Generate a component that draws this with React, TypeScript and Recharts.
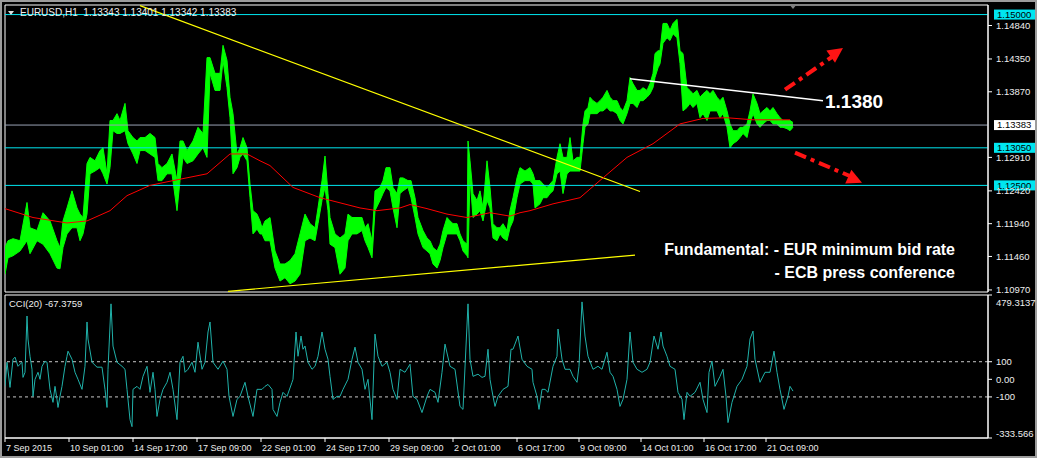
import React from "react";
import {
  ComposedChart,
  Area,
  Line,
  XAxis,
  YAxis,
  ReferenceLine,
  ReferenceArea,
  ReferenceDot,
} from "recharts";

const FONT = "'Liberation Sans', Arial, sans-serif";
const TXT = "#eeeeee";
const CYAN = "#00e6f0";
const RED = "#ff1414";

// hourly bars: [bar, high, low]
const priceBars: [number, number, number][] = [
  [0, 1.1159, 1.112], [3, 1.1169, 1.1144], [8, 1.1172, 1.1147], [15, 1.1169, 1.1154], [22, 1.1225, 1.1169],
  [25, 1.1188, 1.115], [32, 1.1184, 1.1169], [38, 1.121, 1.1164], [45, 1.1198, 1.115], [52, 1.1169, 1.1129],
  [55, 1.1159, 1.1128], [58, 1.1198, 1.1159], [62, 1.1217, 1.1179], [67, 1.1242, 1.1188], [72, 1.1217, 1.1188],
  [75, 1.1208, 1.1169], [78, 1.1203, 1.1179], [82, 1.1282, 1.1208], [85, 1.1291, 1.1267], [90, 1.1286, 1.1271],
  [95, 1.1301, 1.1276], [98, 1.1305, 1.1267], [102, 1.1267, 1.1252], [105, 1.1345, 1.1276], [108, 1.1345, 1.133],
  [112, 1.1355, 1.1326], [115, 1.1345, 1.1326], [120, 1.137, 1.133], [123, 1.133, 1.1311], [128, 1.132, 1.1296],
  [132, 1.1315, 1.1282], [135, 1.132, 1.1301], [140, 1.132, 1.1301], [145, 1.1326, 1.1296], [150, 1.132, 1.1291],
  [153, 1.1282, 1.1257], [157, 1.1276, 1.1257], [162, 1.1282, 1.1267], [167, 1.1296, 1.1267], [172, 1.1257, 1.1213],
  [175, 1.1315, 1.1257], [178, 1.1315, 1.1291], [182, 1.1301, 1.1282], [188, 1.1315, 1.1286], [193, 1.1335, 1.1296],
  [198, 1.1326, 1.1305], [202, 1.1437, 1.1291], [205, 1.1437, 1.1414], [210, 1.1414, 1.1389], [215, 1.1414, 1.1389],
  [218, 1.1455, 1.1433], [222, 1.1433, 1.1393], [225, 1.1379, 1.1349], [228, 1.1355, 1.1267], [232, 1.1296, 1.1276],
  [235, 1.1305, 1.1291], [238, 1.132, 1.1296], [242, 1.1305, 1.1286], [245, 1.1252, 1.1232], [248, 1.1213, 1.1179],
  [252, 1.1208, 1.1186], [255, 1.1198, 1.1179], [257, 1.1188, 1.1179], [260, 1.1198, 1.1169], [265, 1.1203, 1.1169],
  [270, 1.1154, 1.1129], [275, 1.1135, 1.111], [280, 1.1135, 1.1115], [285, 1.114, 1.1106], [290, 1.115, 1.111],
  [295, 1.1179, 1.112], [300, 1.1208, 1.1169], [305, 1.1194, 1.1173], [310, 1.1188, 1.1169], [313, 1.1217, 1.1194],
  [317, 1.1257, 1.1228], [320, 1.1293, 1.1247], [323, 1.1238, 1.1213], [325, 1.1203, 1.1164], [330, 1.1179, 1.1159],
  [335, 1.1173, 1.112], [340, 1.1179, 1.1129], [343, 1.1208, 1.1169], [347, 1.1203, 1.1179], [352, 1.1203, 1.1179],
  [357, 1.1203, 1.1184], [360, 1.1188, 1.1169], [363, 1.1194, 1.1159], [367, 1.1169, 1.1144], [370, 1.1242, 1.1213],
  [375, 1.1247, 1.1228], [378, 1.1257, 1.1238], [381, 1.1276, 1.1247], [385, 1.1276, 1.1242], [388, 1.1247, 1.1217],
  [392, 1.1238, 1.1188], [395, 1.1261, 1.1238], [398, 1.1261, 1.1242], [403, 1.1257, 1.1247], [406, 1.1257, 1.1232],
  [410, 1.1232, 1.1203], [413, 1.1203, 1.1179], [418, 1.1184, 1.1159], [422, 1.1173, 1.1154], [425, 1.1169, 1.115],
  [428, 1.1159, 1.1135], [432, 1.1154, 1.1129], [435, 1.1164, 1.114], [438, 1.1184, 1.1159], [442, 1.1203, 1.1179],
  [445, 1.1198, 1.1179], [448, 1.1194, 1.1179], [452, 1.1194, 1.1179], [455, 1.1179, 1.1169], [458, 1.1169, 1.1154],
  [462, 1.1164, 1.1147], [463, 1.1315, 1.1144], [465, 1.1286, 1.1261], [468, 1.1238, 1.1203], [472, 1.1228, 1.1208],
  [475, 1.1242, 1.1213], [478, 1.1217, 1.1198], [482, 1.1286, 1.1228], [485, 1.1247, 1.1217], [488, 1.1194, 1.1173],
  [492, 1.1188, 1.1169], [495, 1.1188, 1.1179], [498, 1.1194, 1.1173], [502, 1.1184, 1.1169], [505, 1.1213, 1.1188],
  [508, 1.1232, 1.1198], [512, 1.1261, 1.1232], [515, 1.1276, 1.1252], [520, 1.1271, 1.1257], [525, 1.1276, 1.1257],
  [528, 1.1267, 1.1252], [530, 1.1257, 1.1217], [535, 1.1257, 1.1223], [538, 1.1252, 1.1232], [542, 1.1247, 1.1232],
  [545, 1.1252, 1.1238], [548, 1.1257, 1.1242], [552, 1.1291, 1.1267], [555, 1.1311, 1.1271], [558, 1.1291, 1.1238],
  [562, 1.1291, 1.1267], [565, 1.132, 1.1271], [568, 1.1286, 1.1271], [572, 1.1291, 1.1271], [575, 1.1291, 1.1271],
  [578, 1.134, 1.1311], [580, 1.1359, 1.1335], [583, 1.1364, 1.134], [585, 1.1379, 1.1355], [588, 1.1374, 1.1355],
  [592, 1.137, 1.1355], [595, 1.1374, 1.1359], [598, 1.1379, 1.1359], [602, 1.1389, 1.1364], [605, 1.1379, 1.1359],
  [608, 1.1374, 1.1359], [612, 1.1374, 1.1355], [615, 1.1364, 1.1345], [618, 1.1359, 1.134], [622, 1.1374, 1.1355],
  [625, 1.1408, 1.137], [628, 1.1399, 1.137], [632, 1.1389, 1.1364], [635, 1.1389, 1.1374], [638, 1.1393, 1.1374],
  [642, 1.1389, 1.1379], [645, 1.1399, 1.1384], [648, 1.1414, 1.1393], [650, 1.1443, 1.1408], [653, 1.1447, 1.1422],
  [655, 1.1447, 1.1428], [658, 1.1487, 1.1458], [662, 1.1487, 1.1466], [665, 1.1477, 1.1462], [668, 1.1487, 1.1472],
  [672, 1.1493, 1.1466], [675, 1.1447, 1.1428], [678, 1.1443, 1.1359], [682, 1.1393, 1.1364], [685, 1.1389, 1.137],
  [688, 1.1384, 1.1364], [692, 1.1389, 1.137], [695, 1.1379, 1.1349], [698, 1.1384, 1.1355], [702, 1.1389, 1.1345],
  [705, 1.1384, 1.1359], [708, 1.1389, 1.1359], [712, 1.1379, 1.1359], [715, 1.1374, 1.1349], [718, 1.1379, 1.1355],
  [722, 1.1359, 1.1335], [725, 1.134, 1.1305], [728, 1.133, 1.1311], [732, 1.133, 1.1315], [735, 1.1335, 1.132],
  [738, 1.1335, 1.1326], [742, 1.134, 1.132], [745, 1.1359, 1.134], [748, 1.1384, 1.1355], [752, 1.137, 1.134],
  [755, 1.1355, 1.1335], [758, 1.1359, 1.134], [762, 1.1364, 1.1345], [765, 1.1359, 1.1345], [768, 1.1364, 1.134],
  [772, 1.1355, 1.134], [775, 1.1349, 1.1335], [778, 1.1345, 1.1335], [782, 1.1345, 1.1333], [785, 1.1345, 1.133],
  [788, 1.1342, 1.1335],
];

// red moving average: [bar, value]
const maPoints: [number, number][] = [
  [0, 1.1216], [28, 1.1203], [62, 1.1195], [82, 1.1198], [105, 1.1213], [122, 1.1235], [145, 1.125],
  [168, 1.1257], [202, 1.1267], [225, 1.1296], [242, 1.1296], [255, 1.1286], [265, 1.1279], [288, 1.1247],
  [315, 1.1232], [355, 1.1217], [372, 1.1213], [395, 1.1217], [405, 1.1222], [422, 1.1216], [442, 1.1208],
  [462, 1.1203], [485, 1.121], [505, 1.1205], [515, 1.121], [525, 1.1213], [548, 1.1223], [575, 1.1232],
  [598, 1.1261], [622, 1.1291], [648, 1.1311], [675, 1.134], [698, 1.1348], [722, 1.1349], [748, 1.1346],
  [785, 1.1346],
];

// CCI(20): [bar, value]
const cciPoints: [number, number][] = [
  [0, -40], [2, 97], [5, -46], [8, 114], [10, 126], [13, 74], [17, 97], [18, 11], [20, 40], [22, 360],
  [23, 229], [25, 131], [27, 57], [28, -97], [30, 0], [33, 40], [35, 0], [37, 74], [40, 103], [42, 97],
  [45, -57], [48, -131], [50, -40], [52, -114], [53, -160], [55, -97], [57, -40], [60, 74], [62, 131], [63, 160],
  [67, 114], [70, 40], [73, 0], [77, -57], [80, 74], [82, 326], [83, 229], [87, 97], [92, 69], [97, 69],
  [100, -57], [102, -160], [103, 57], [106, 429], [108, 189], [112, 97], [117, 74], [120, 57], [122, -57], [125, -229],
  [127, -269], [128, -57], [132, -40], [135, -57], [138, 17], [142, 74], [145, -74], [148, 40], [150, -57], [152, -211],
  [155, -114], [158, -57], [162, -17], [165, 40], [168, -57], [172, -229], [175, 97], [178, 131], [180, 40], [183, 57],
  [187, 97], [190, 40], [193, 211], [197, 57], [200, 97], [203, 269], [205, 326], [208, 97], [213, 57], [218, 103],
  [222, 57], [224, -97], [228, -211], [232, -114], [235, -97], [240, -17], [243, -97], [248, -211], [252, -57], [257, -57],
  [260, -40], [263, -29], [267, -57], [268, -171], [272, -211], [275, -131], [278, -74], [282, -97], [287, -17], [288, 0],
  [291, 269], [293, 131], [296, 246], [298, 171], [300, 189], [303, 97], [307, 57], [310, 74], [313, 131], [317, 269],
  [320, 171], [323, 114], [325, 17], [328, -114], [332, -97], [335, -97], [338, -57], [343, 0], [347, 114], [350, 183],
  [353, 97], [357, 57], [360, -57], [363, 0], [367, -229], [370, 257], [373, 131], [377, 74], [382, 97], [385, 40],
  [388, -57], [392, -114], [395, 57], [400, 40], [405, 86], [408, -97], [412, -114], [417, -189], [422, -97], [425, -57],
  [430, -74], [433, -131], [437, 40], [440, 200], [445, 74], [450, 57], [455, -154], [458, -171], [463, 429], [465, 114],
  [468, 17], [473, 29], [477, 11], [480, 17], [483, 171], [485, 0], [488, -97], [490, -154], [493, -97], [498, -57],
  [503, -40], [506, 171], [508, 171], [513, 246], [517, 114], [522, 74], [527, 57], [528, -17], [532, -97], [534, -171],
  [537, -57], [540, -57], [543, -74], [548, 74], [552, 131], [553, 286], [557, 114], [560, 57], [565, 57], [568, 17],
  [572, -17], [574, 74], [577, 440], [580, 246], [583, 131], [588, 57], [593, 74], [597, 57], [602, 154], [605, 40],
  [608, 17], [612, -57], [615, -154], [618, -114], [622, 0], [625, 269], [628, 97], [632, 57], [637, 40], [642, 57],
  [645, 97], [649, 246], [653, 171], [656, 269], [658, 189], [662, 131], [665, 74], [670, 57], [673, -74], [677, -114],
  [679, -229], [682, -74], [685, -97], [690, -74], [695, -17], [698, -114], [702, -189], [704, 40], [707, 103], [710, -40],
  [715, 17], [718, 57], [721, -97], [723, -246], [727, -131], [732, -40], [737, 0], [742, 74], [745, 229], [748, 274],
  [750, 114], [755, -17], [760, 40], [765, 40], [769, 160], [772, 40], [775, -57], [779, -171], [783, -97], [785, -40],
  [788, -67],
];

const timeTicks = [0, 64, 128, 192, 256, 320, 384, 448, 512, 574, 636, 699, 761];
const timeLabels = [
  "7 Sep 2015", "10 Sep 01:00", "14 Sep 17:00", "17 Sep 09:00", "22 Sep 01:00", "24 Sep 17:00",
  "29 Sep 09:00", "2 Oct 01:00", "6 Oct 17:00", "9 Oct 09:00", "14 Oct 01:00", "16 Oct 17:00", "21 Oct 09:00",
];
const priceTicks = [1.1484, 1.1435, 1.1387, 1.1291, 1.1242, 1.1194, 1.1146, 1.1097];
const priceDomain = [1.1094, 1.1514];
const levels = [1.15, 1.1305, 1.125];
const lastPrice = 1.13383;
const cciMax = 479.3137;
const cciMin = -333.566;
const cciTicks = [cciMax, 100, 0, -100, cciMin];
const barDomain = [0, 983];

const priceData = priceBars.map(([bar, hi, lo]) => ({ bar, range: [lo, hi] }));
const maData = maPoints.map(([bar, ma]) => ({ bar, ma }));
const cciData = cciPoints.map(([bar, cci]) => ({ bar, cci }));

function LevelTag(props: any) {
  const { viewBox, text, fill } = props;
  if (!viewBox) return null;
  const x = viewBox.x + viewBox.width;
  const y = viewBox.y;
  return (
    <g>
      <rect x={x + 6} y={y - 5} width={41} height={10} fill={fill} />
      <text x={x + 9} y={y} dy="0.35em" fill="#000" fontSize={9.5} fontFamily={FONT}>
        {text}
      </text>
    </g>
  );
}

function ArrowHead(props: any) {
  const { cx, cy, angle } = props;
  const a = (angle * Math.PI) / 180;
  const bx = cx - 15 * Math.cos(a);
  const by = cy - 15 * Math.sin(a);
  const px = -Math.sin(a) * 7.5;
  const py = Math.cos(a) * 7.5;
  return <polygon points={`${cx},${cy} ${bx + px},${by + py} ${bx - px},${by - py}`} fill={RED} />;
}

function TimeTick(props: any) {
  const { x, y, payload } = props;
  const i = timeTicks.indexOf(payload.value);
  return (
    <text x={x + 1} y={y} dy={7} fill={TXT} fontSize={9} fontFamily={FONT} textAnchor="start">
      {timeLabels[i]}
    </text>
  );
}

function CciTick(props: any) {
  const { x, y, payload } = props;
  const v = payload.value;
  let dy = 3.5;
  const label = v === 0 ? "0.00" : String(v);
  if (v === cciMax) dy = 11;
  if (v === cciMin) dy = -1.5;
  return (
    <text x={x} y={y} dy={dy} fill={TXT} fontSize={9.5} fontFamily={FONT} textAnchor="start">
      {label}
    </text>
  );
}

export default function App() {
  return (
    <div
      style={{
        position: "fixed",
        left: 0,
        top: 0,
        width: 1037,
        height: 458,
        background: "#000",
        overflow: "hidden",
        boxShadow: "inset 2px 2px 0 #9c9c9c, inset -2px -2px 0 #9c9c9c",
      }}
    >
      <div style={{ position: "absolute", left: 0, top: 0 }}>
        <ComposedChart width={1037} height={297} data={priceData} margin={{ top: 5, right: 0, bottom: 5, left: 5 }}>
          <XAxis type="number" dataKey="bar" domain={barDomain} allowDataOverflow hide />
          <YAxis
            type="number"
            orientation="right"
            width={49}
            domain={priceDomain}
            allowDataOverflow
            ticks={priceTicks}
            interval={0}
            tickFormatter={(v: number) => v.toFixed(5)}
            tick={{ fill: TXT, fontSize: 9.5, fontFamily: FONT }}
            tickSize={4}
            tickMargin={4}
            stroke="#fff"
          />
          <ReferenceArea
            x1={barDomain[0]}
            x2={barDomain[1]}
            y1={priceDomain[0]}
            y2={priceDomain[1]}
            stroke="#fff"
            fill="none"
            fillOpacity={0}
          />
          {levels.map((lv) => (
            <ReferenceLine
              key={lv}
              y={lv}
              stroke={CYAN}
              strokeWidth={1}
              label={<LevelTag text={lv.toFixed(5)} fill={CYAN} />}
            />
          ))}
          <ReferenceLine
            y={lastPrice}
            stroke="#9aa2b4"
            strokeWidth={1}
            label={<LevelTag text={lastPrice.toFixed(5)} fill="#ffffff" />}
          />
          <ReferenceLine segment={[{ x: 135, y: 1.1513 }, { x: 635, y: 1.1241 }]} stroke="#ffff00" strokeWidth={1.2} />
          <ReferenceLine segment={[{ x: 223, y: 1.1095 }, { x: 630, y: 1.1148 }]} stroke="#ffff00" strokeWidth={1.2} />
          <Area
            type="linear"
            dataKey="range"
            stroke="#00ff00"
            strokeWidth={1}
            fill="#00ff00"
            fillOpacity={1}
            dot={false}
            activeDot={false}
            isAnimationActive={false}
          />
          <Line
            data={maData}
            type="linear"
            dataKey="ma"
            stroke="#ff0000"
            strokeWidth={1}
            dot={false}
            activeDot={false}
            isAnimationActive={false}
          />
          <ReferenceLine segment={[{ x: 625, y: 1.1406 }, { x: 818, y: 1.1374 }]} stroke="#ffffff" strokeWidth={1.5} />
          <ReferenceDot
            x={818}
            y={1.1374}
            r={0}
            shape={(p: any) => (
              <text x={p.cx + 2} y={p.cy + 7} fill="#fff" fontSize={19} fontWeight="bold" fontFamily={FONT}>
                1.1380
              </text>
            )}
          />
          <ReferenceLine
            segment={[{ x: 780, y: 1.139 }, { x: 828, y: 1.1439 }]}
            stroke={RED}
            strokeWidth={4}
            strokeDasharray="12 5 4 5"
          />
          <ReferenceDot x={838} y={1.1451} r={0} shape={(p: any) => <ArrowHead {...p} angle={-35} />} />
          <ReferenceLine
            segment={[{ x: 790, y: 1.1298 }, { x: 846, y: 1.1263 }]}
            stroke={RED}
            strokeWidth={4}
            strokeDasharray="12 5 4 5"
          />
          <ReferenceDot x={857} y={1.1254} r={0} shape={(p: any) => <ArrowHead {...p} angle={24} />} />
        </ComposedChart>
      </div>

      <div style={{ position: "absolute", left: 0, top: 293 }}>
        <ComposedChart width={1037} height={165} data={cciData} margin={{ top: 2, right: 0, bottom: 0, left: 5 }}>
          <XAxis
            type="number"
            dataKey="bar"
            domain={barDomain}
            allowDataOverflow
            ticks={timeTicks}
            interval={0}
            height={20}
            tick={<TimeTick />}
            tickSize={4}
            tickMargin={2}
            stroke="#fff"
          />
          <YAxis
            type="number"
            orientation="right"
            width={49}
            domain={[cciMin, cciMax]}
            allowDataOverflow
            ticks={cciTicks}
            interval={0}
            tick={<CciTick />}
            tickSize={4}
            tickMargin={4}
            stroke="#fff"
          />
          <ReferenceArea x1={barDomain[0]} x2={barDomain[1]} y1={cciMin} y2={cciMax} stroke="#fff" fill="none" fillOpacity={0} />
          <ReferenceLine y={100} stroke="#c8c8c8" strokeDasharray="3 3" />
          <ReferenceLine y={-100} stroke="#c8c8c8" strokeDasharray="3 3" />
          <Line
            type="linear"
            dataKey="cci"
            stroke="#20b2aa"
            strokeWidth={1}
            dot={false}
            activeDot={false}
            isAnimationActive={false}
          />
        </ComposedChart>
      </div>

      {/* header texts */}
      <div
        style={{
          position: "absolute",
          left: 8,
          top: 11,
          width: 0,
          height: 0,
          borderLeft: "3.5px solid transparent",
          borderRight: "3.5px solid transparent",
          borderTop: "4px solid #e0e0e0",
        }}
      />
      <div
        style={{
          position: "absolute",
          left: 789,
          top: 4,
          width: 0,
          height: 0,
          borderLeft: "4px solid transparent",
          borderRight: "4px solid transparent",
          borderTop: "5px solid #808080",
        }}
      />
      <div
        style={{
          position: "absolute",
          left: 20,
          top: 8,
          color: TXT,
          fontFamily: FONT,
          fontSize: 10,
          lineHeight: "10px",
          whiteSpace: "pre",
        }}
      >
        {"EURUSD,H1  1.13343 1.13401 1.13342 1.13383"}
      </div>
      <div
        style={{
          position: "absolute",
          left: 9,
          top: 299,
          color: TXT,
          fontFamily: FONT,
          fontSize: 9.5,
          lineHeight: "10px",
          whiteSpace: "pre",
        }}
      >
        {"CCI(20) -67.3759"}
      </div>
      <div
        style={{
          position: "absolute",
          right: 82,
          top: 242,
          color: "#fff",
          fontFamily: FONT,
          fontSize: 16,
          fontWeight: "bold",
          lineHeight: "16px",
          whiteSpace: "pre",
          textAlign: "right",
        }}
      >
        {"Fundamental: - EUR minimum bid rate"}
      </div>
      <div
        style={{
          position: "absolute",
          right: 82,
          top: 265,
          color: "#fff",
          fontFamily: FONT,
          fontSize: 16,
          fontWeight: "bold",
          lineHeight: "16px",
          whiteSpace: "pre",
          textAlign: "right",
        }}
      >
        {"- ECB press conference"}
      </div>
    </div>
  );
}
